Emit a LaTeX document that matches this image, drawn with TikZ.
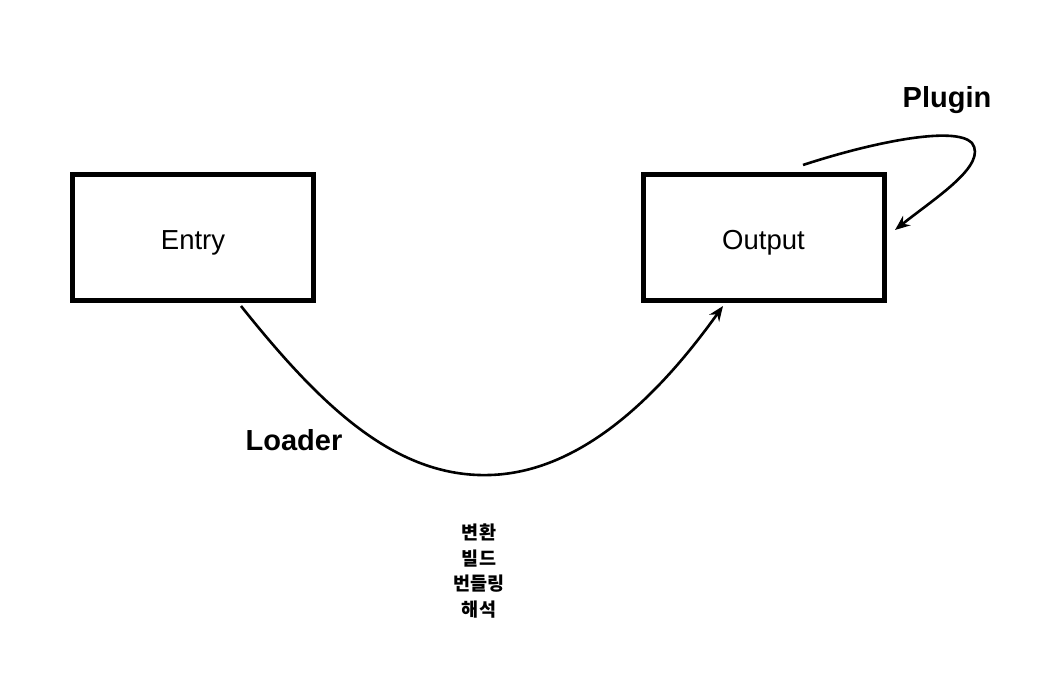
\documentclass[tikz,border=0pt]{standalone}
\usepackage{fontspec}
\setmainfont{Liberation Sans}
\newfontfamily\kor{Noto Sans CJK KR}
\usetikzlibrary{arrows.meta}
\begin{document}
\begin{tikzpicture}[x=1pt,y=-1pt,
  box/.style={draw=black,line width=5pt,minimum width=241pt,minimum height=126pt,inner sep=0pt,font=\fontsize{27.5}{32}\selectfont},
  lbl/.style={font=\bfseries\fontsize{29}{34}\selectfont,inner sep=0pt},
  conn/.style={line width=2.6pt,-{Stealth[length=15pt,width=12pt]}}]
\useasboundingbox (0,0) rectangle (1052,693);
\node[box] (entry) at (193,237.5) {\raisebox{-12pt}[0pt][0pt]{Entry}};
\node[box] (output) at (763.5,237.5) {\raisebox{-12pt}[0pt][0pt]{Output}};
\node[lbl] (plugin) at (947,100) {Plugin};
\node[lbl] (loader) at (294,440) {Loader};
\node[inner sep=0pt,align=center,font=\kor\bfseries\fontsize{18.5}{25.5}\selectfont] (kr) at (479,571) {변환\\빌드\\번들링\\해석};
\coordinate (ls) at (241,306);
\coordinate (le) at (723,306);
\coordinate (ps) at (803,165);
\coordinate (pe) at (895,230);
\draw[conn] (ls) .. controls (320,405) and (395,478) .. (490,475) .. controls (590,472) and (670,380) .. (le);
\draw[conn] (ps) .. controls (870,143) and (955,125) .. (972,143) .. controls (988,165) and (935,198) .. (pe);
\end{tikzpicture}
\end{document}
